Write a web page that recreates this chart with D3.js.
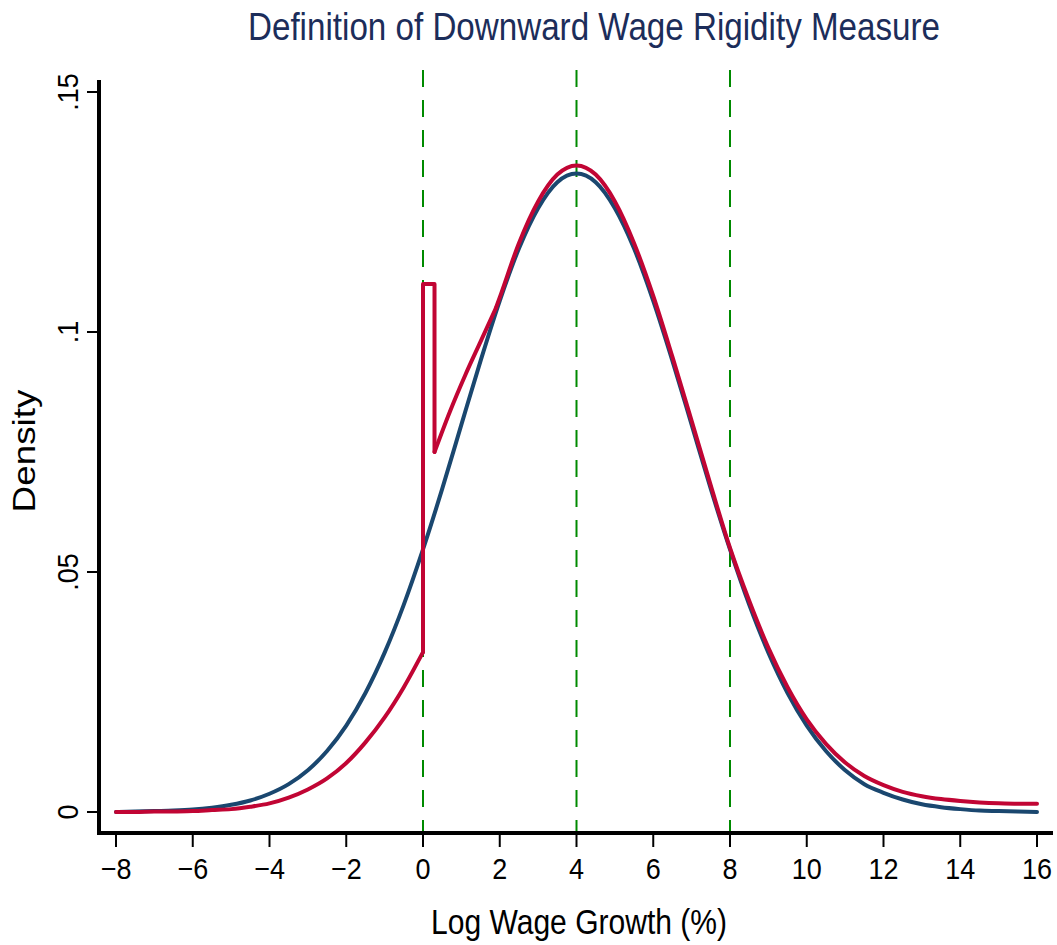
<!DOCTYPE html>
<html>
<head>
<meta charset="utf-8">
<script src="https://cdn.jsdelivr.net/npm/d3@7"></script>
<style>
  body { margin: 0; background: white; }
  text { font-family: "Liberation Sans Narrow", "Arial Narrow", "Liberation Sans", Arial, sans-serif; }
</style>
</head>
<body>
<div id="container"></div>
<script>
let w = 1057;
let h = 945;

// data
let xTicks = [-8, -6, -4, -2, 0, 2, 4, 6, 8, 10, 12, 14, 16];
let yTicks = [0, 0.05, 0.1, 0.15];
let yTickLabels = ["0", ".05", ".1", ".15"];
let refLines = [0, 4, 8];

let gridX = [-8, -7.5, -7, -6.5, -6, -5.5, -5, -4.5, -4, -3.5, -3, -2.5, -2, -1.5, -1, -0.5,
  0, 0.5, 1, 1.5, 2, 2.5, 3, 3.5, 4, 4.5, 5, 5.5, 6, 6.5, 7, 7.5, 8, 8.5, 9, 9.5,
  10, 10.5, 11, 11.5, 12, 12.5, 13, 13.5, 14, 14.5, 15, 15.5, 16];
let blueDensity = [0.0000, 0.0001, 0.0002, 0.0003, 0.0005, 0.0009, 0.0015, 0.0024, 0.0038, 0.0058,
  0.0087, 0.0127, 0.0180, 0.0248, 0.0332, 0.0432, 0.0547, 0.0673, 0.0807, 0.0940, 0.1065,
  0.1174, 0.1258, 0.1312, 0.1330, 0.1312, 0.1258, 0.1174, 0.1065, 0.0940, 0.0807, 0.0673,
  0.0547, 0.0432, 0.0332, 0.0248, 0.0180, 0.0127, 0.0087, 0.0058, 0.0040, 0.0026, 0.0016,
  0.0010, 0.0006, 0.0003, 0.0002, 0.0001, 0.0000];

let redLeftX = [-8, -7.5, -7, -6.5, -6, -5.5, -5, -4.5, -4, -3.5, -3, -2.5, -2, -1.5, -1, -0.5, 0];
let redLeftY = [0.0000, 0.0000, 0.0001, 0.0001, 0.0002, 0.0004, 0.0006, 0.0011, 0.0018, 0.0030,
  0.0047, 0.0070, 0.0102, 0.0145, 0.0197, 0.0260, 0.0333];

let spikeX = [0, 0, 0.3, 0.3];
let spikeY = [0.0333, 0.110, 0.110, 0.075];

let riseX = [0.3, 0.7, 1.1, 1.5, 1.9];
let riseY = [0.0750, 0.0834, 0.0910, 0.0980, 0.1050];

let redRightX = [1.9, 2, 2.5, 3, 3.5, 4, 4.5, 5, 5.5, 6, 6.5, 7, 7.5, 8, 8.5, 9, 9.5, 10,
  10.5, 11, 11.5, 12, 12.5, 13, 13.5, 14, 14.5, 15, 15.5, 16];
let redRightY = [0.1050, 0.1072, 0.1185, 0.1272, 0.1328, 0.1347, 0.1328, 0.1272, 0.1185, 0.1075,
  0.0948, 0.0815, 0.0680, 0.0550, 0.0440, 0.0342, 0.0260, 0.0193, 0.0142, 0.0103, 0.0075,
  0.0056, 0.0042, 0.0033, 0.0027, 0.0023, 0.0020, 0.0018, 0.0017, 0.0017];

let blueColor = "#1a476f";
let redColor = "#c10534";

///////////////////////////

let viz = d3.select("#container").append("svg")
    .attr("width", w)
    .attr("height", h)
    .style("background-color", "white");

let xScale = d3.scaleLinear().domain([-8, 16]).range([116, 1037]);
let yScale = d3.scaleLinear().domain([0, 0.15]).range([812, 92]);

function zipUp(xs, ys) {
  return xs.map(function(x, i) { return [x, ys[i]]; });
}

// green reference lines
viz.selectAll(".refline").data(refLines)
  .enter()
  .append("line")
    .attr("class", "refline")
    .attr("x1", d => xScale(d))
    .attr("x2", d => xScale(d))
    .attr("y1", 70)
    .attr("y2", 831)
    .attr("stroke", "#008a00")
    .attr("stroke-width", 2)
    .attr("stroke-dasharray", "17,13");

let smooth = d3.line()
  .x(d => xScale(d[0]))
  .y(d => yScale(d[1]))
  .curve(d3.curveMonotoneX);

let straight = d3.line()
  .x(d => xScale(d[0]))
  .y(d => yScale(d[1]));

viz.append("path")
  .attr("d", smooth(zipUp(gridX, blueDensity)))
  .attr("fill", "none")
  .attr("stroke", blueColor)
  .attr("stroke-width", 4)
  .attr("stroke-linecap", "round");

let redParts = [
  smooth(zipUp(redLeftX, redLeftY)),
  straight(zipUp(spikeX, spikeY)),
  smooth(zipUp(riseX, riseY)),
  smooth(zipUp(redRightX, redRightY))
];

viz.selectAll(".redpart").data(redParts)
  .enter()
  .append("path")
    .attr("class", "redpart")
    .attr("d", d => d)
    .attr("fill", "none")
    .attr("stroke", redColor)
    .attr("stroke-width", 4)
    .attr("stroke-linecap", "round")
    .attr("stroke-linejoin", "round");

// axes
let xAxis = viz.append("g").attr("transform", "translate(0,833)");
xAxis.append("line")
  .attr("x1", 97).attr("x2", 1053)
  .attr("stroke", "black").attr("stroke-width", 4);
xAxis.selectAll(".xtick").data(xTicks)
  .enter()
  .append("line")
    .attr("x1", d => xScale(d)).attr("x2", d => xScale(d))
    .attr("y1", 2).attr("y2", 14)
    .attr("stroke", "black").attr("stroke-width", 2);
xAxis.selectAll(".xlab").data(xTicks)
  .enter()
  .append("text")
    .attr("transform", d => "translate(" + xScale(d) + ",46) scale(0.9,1)")
    .attr("text-anchor", "middle")
    .attr("font-size", 30)
    .text(d => d < 0 ? "\u2212" + Math.abs(d) : d);

let yAxis = viz.append("g").attr("transform", "translate(99,0)");
yAxis.append("line")
  .attr("y1", 80).attr("y2", 835)
  .attr("stroke", "black").attr("stroke-width", 4);
yAxis.selectAll(".ytick").data(yTicks)
  .enter()
  .append("line")
    .attr("x1", -12).attr("x2", -2)
    .attr("y1", d => yScale(d)).attr("y2", d => yScale(d))
    .attr("stroke", "black").attr("stroke-width", 2);
yAxis.selectAll(".ylab").data(yTicks)
  .enter()
  .append("text")
    .attr("transform", d => "translate(-21," + yScale(d) + ") rotate(-90) scale(0.9,1)")
    .attr("text-anchor", "middle")
    .attr("font-size", 30)
    .text((d, i) => yTickLabels[i]);

// titles
viz.append("text")
  .attr("x", 594)
  .attr("y", 40)
  .attr("text-anchor", "middle")
  .attr("font-size", 38)
  .attr("fill", "#1c2d5a")
  .attr("textLength", 692)
  .attr("lengthAdjust", "spacingAndGlyphs")
  .text("Definition of Downward Wage Rigidity Measure");

viz.append("text")
  .attr("x", 579)
  .attr("y", 934)
  .attr("text-anchor", "middle")
  .attr("font-size", 35)
  .attr("textLength", 296)
  .attr("lengthAdjust", "spacingAndGlyphs")
  .text("Log Wage Growth (%)");

viz.append("text")
  .attr("transform", "translate(35,451) rotate(-90)")
  .attr("text-anchor", "middle")
  .attr("font-size", 31)
  .attr("textLength", 123)
  .attr("lengthAdjust", "spacingAndGlyphs")
  .text("Density");
</script>
</body>
</html>
